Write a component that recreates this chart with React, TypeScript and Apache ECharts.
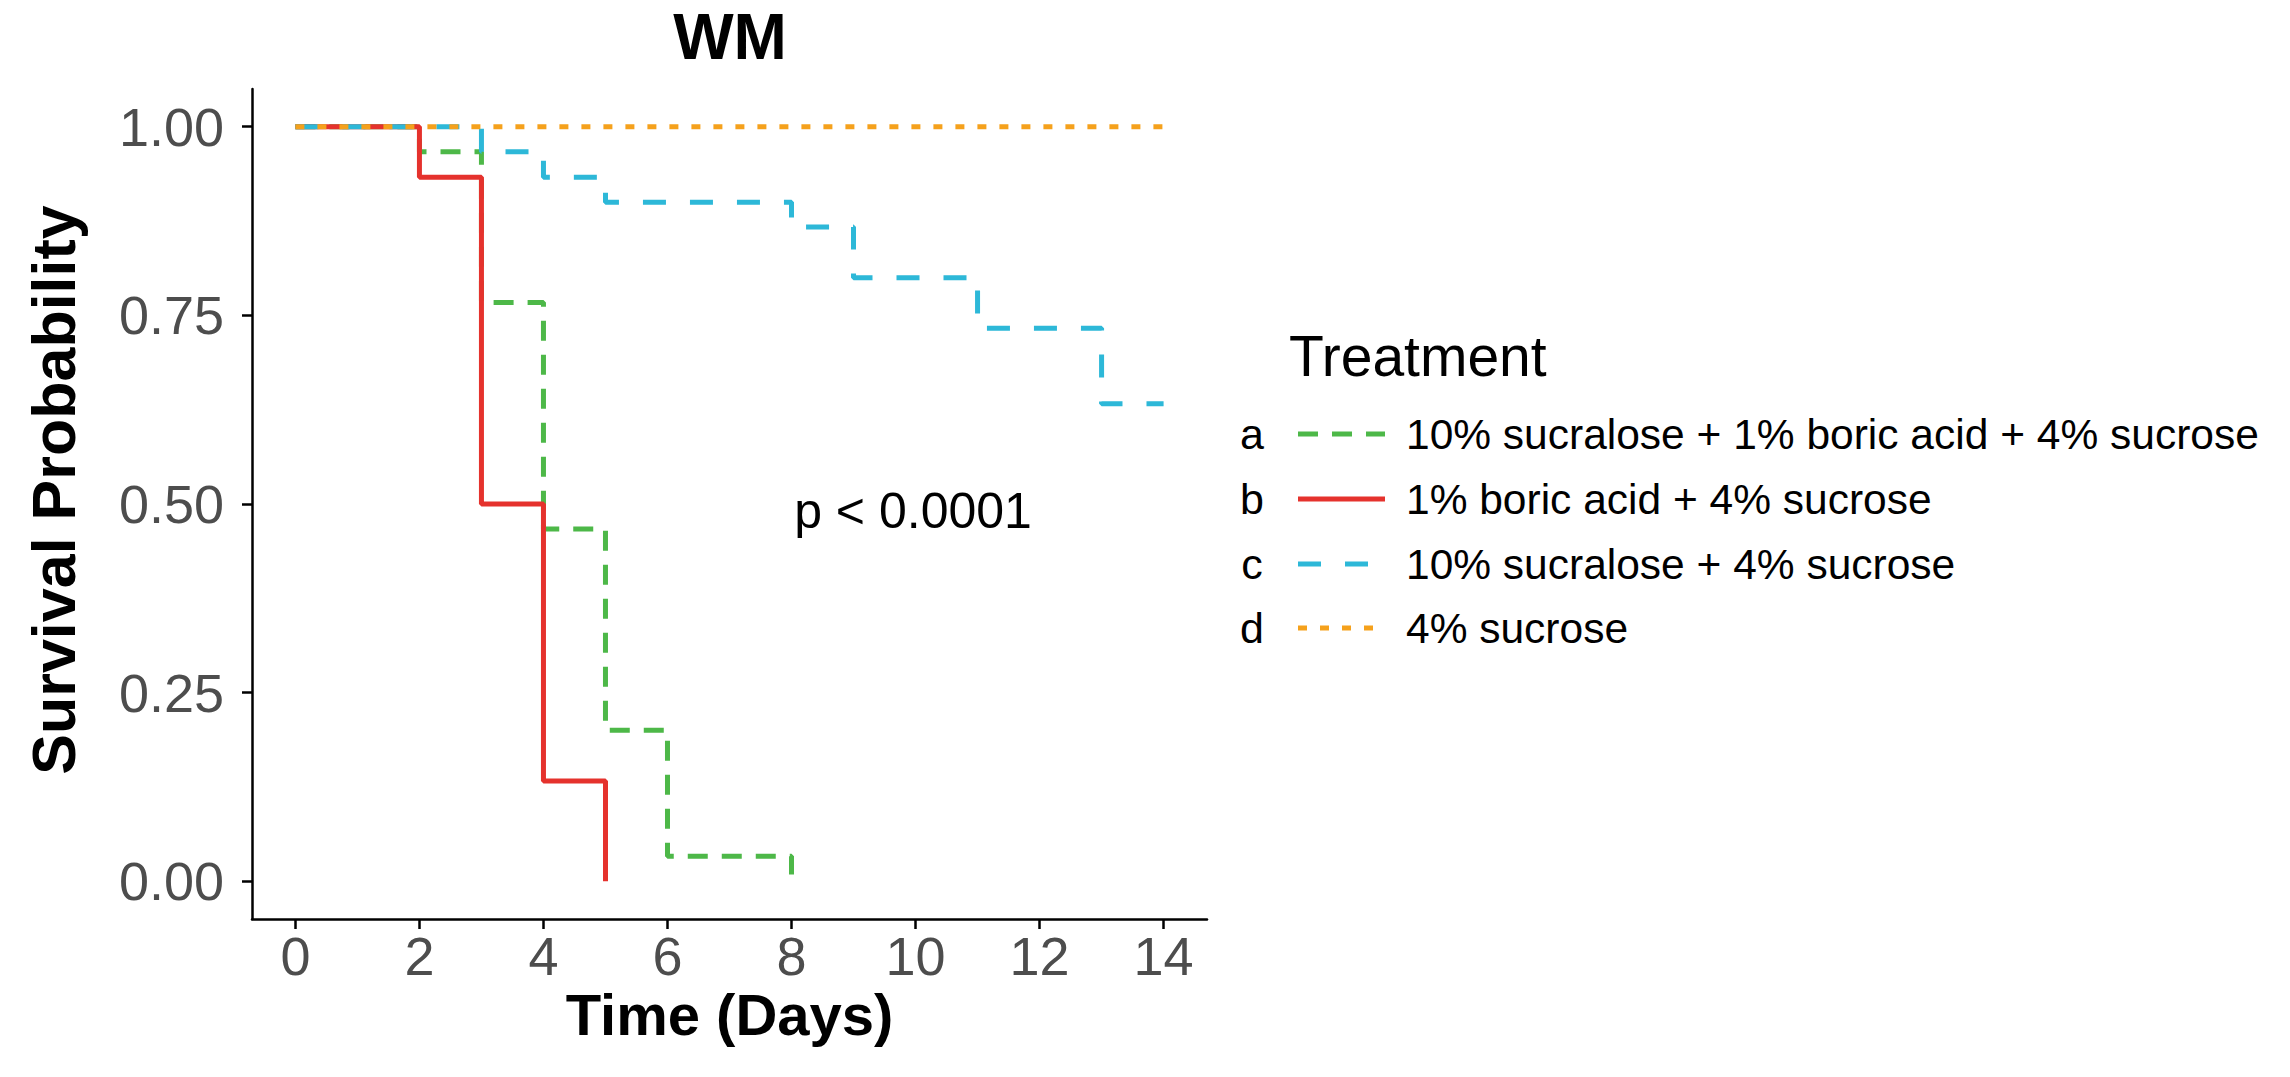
import React, { useEffect, useRef } from "react";
import * as echarts from "echarts";

const FONT = "'Liberation Sans', Arial, Helvetica, sans-serif";

const seriesKeys = ["a", "b", "c", "d"];
const seriesNames = [
  "10% sucralose + 1% boric acid + 4% sucrose",
  "1% boric acid + 4% sucrose",
  "10% sucralose + 4% sucrose",
  "4% sucrose",
];
const seriesColors = ["#4DB848", "#E5322D", "#2DB8D8", "#F5A11C"];
const seriesDash: (number[] | "solid")[] = [[20, 14], "solid", [23, 24], [9, 13]];

const timesA = [0, 2, 3, 4, 5, 6, 8];
const survA = [1, 0.967, 0.767, 0.467, 0.2, 0.033, 0];
const timesB = [0, 2, 3, 4, 5];
const survB = [1, 0.933, 0.5, 0.133, 0];
const timesC = [0, 3, 4, 5, 8, 9, 11, 13, 14];
const survC = [1, 0.967, 0.933, 0.9, 0.867, 0.8, 0.733, 0.633, 0.633];
const timesD = [0, 14];
const survD = [1, 1];

const xTicks = [0, 2, 4, 6, 8, 10, 12, 14];
const yTicks = [0, 0.25, 0.5, 0.75, 1];

const allTimes = [timesA, timesB, timesC, timesD];
const allSurv = [survA, survB, survC, survD];

export default function App() {
  const ref = useRef<HTMLDivElement>(null);
  useEffect(() => {
    if (!ref.current) return;
    const chart = echarts.init(ref.current, undefined, { renderer: "svg" });

    const series = allTimes.map((t, i) => ({
      name: seriesNames[i],
      type: "line",
      step: "end",
      symbol: "none",
      data: t.map((x, j) => [x, allSurv[i][j]]),
      lineStyle: {
        color: seriesColors[i],
        width: 5,
        type: seriesDash[i],
        cap: "butt",
      },
      z: 2 + i,
    }));

    const legendX = 1252;
    const legendRowY = [434, 499, 564, 628];
    const legendGraphics: any[] = [
      {
        type: "text",
        left: 1289,
        top: 327,
        style: { text: "Treatment", font: `57px ${FONT}`, fill: "#000" },
      },
    ];
    seriesKeys.forEach((k, i) => {
      legendGraphics.push({
        type: "text",
        x: legendX,
        y: legendRowY[i],
        style: {
          text: k,
          font: `43px ${FONT}`,
          fill: "#000",
          textAlign: "center",
          textVerticalAlign: "middle",
        },
      });
      legendGraphics.push({
        type: "line",
        shape: { x1: 1298, y1: legendRowY[i], x2: 1385, y2: legendRowY[i] },
        style: {
          stroke: seriesColors[i],
          lineWidth: 5,
          lineDash: seriesDash[i] === "solid" ? null : seriesDash[i],
        },
      });
      legendGraphics.push({
        type: "text",
        x: 1406,
        y: legendRowY[i],
        style: {
          text: seriesNames[i],
          font: `42.5px ${FONT}`,
          fill: "#000",
          textAlign: "left",
          textVerticalAlign: "middle",
        },
      });
    });

    chart.setOption({
      animation: false,
      backgroundColor: "#fff",
      grid: { left: 252, right: 1083, top: 89, bottom: 158, containLabel: false },
      xAxis: {
        type: "value",
        min: -0.7,
        max: 14.7,
        name: "Time (Days)",
        nameLocation: "middle",
        nameGap: 66,
        nameMoveOverlap: false,
        nameTextStyle: { fontFamily: FONT, fontWeight: "bold", fontSize: 58, color: "#000" },
        axisLine: { show: true, onZero: false, lineStyle: { color: "#000", width: 2.5 } },
        axisTick: { show: true, length: 10, lineStyle: { color: "#000", width: 2.5 }, customValues: xTicks },
        axisLabel: {
          fontFamily: FONT,
          fontSize: 54,
          color: "#4D4D4D",
          margin: 10,
          customValues: xTicks,
          formatter: (v: number) => String(v),
        },
        splitLine: { show: false },
      },
      yAxis: {
        type: "value",
        min: -0.05,
        max: 1.05,
        axisLine: { show: true, onZero: false, lineStyle: { color: "#000", width: 2.5 } },
        axisTick: { show: true, length: 10, lineStyle: { color: "#000", width: 2.5 }, customValues: yTicks },
        axisLabel: {
          fontFamily: FONT,
          fontSize: 54,
          color: "#4D4D4D",
          margin: 28,
          customValues: yTicks,
          formatter: (v: number) => v.toFixed(2),
        },
        splitLine: { show: false },
      },
      series,
      graphic: [
        {
          type: "text",
          x: 730,
          y: 37,
          style: {
            text: "WM",
            font: `bold 64px ${FONT}`,
            fill: "#000",
            textAlign: "center",
            textVerticalAlign: "middle",
          },
        },
        {
          type: "text",
          x: 54,
          y: 490,
          rotation: Math.PI / 2,
          style: {
            text: "Survival Probability",
            font: `bold 61px ${FONT}`,
            fill: "#000",
            textAlign: "center",
            textVerticalAlign: "middle",
          },
        },
        {
          type: "text",
          x: 913,
          y: 511,
          style: {
            text: "p < 0.0001",
            font: `50px ${FONT}`,
            fill: "#000",
            textAlign: "center",
            textVerticalAlign: "middle",
          },
        },
        ...legendGraphics,
      ],
    });
    return () => chart.dispose();
  }, []);
  return (
    <div
      ref={ref}
      style={{ position: "fixed", left: 0, top: 0, width: 2290, height: 1077, background: "#fff" }}
    />
  );
}
